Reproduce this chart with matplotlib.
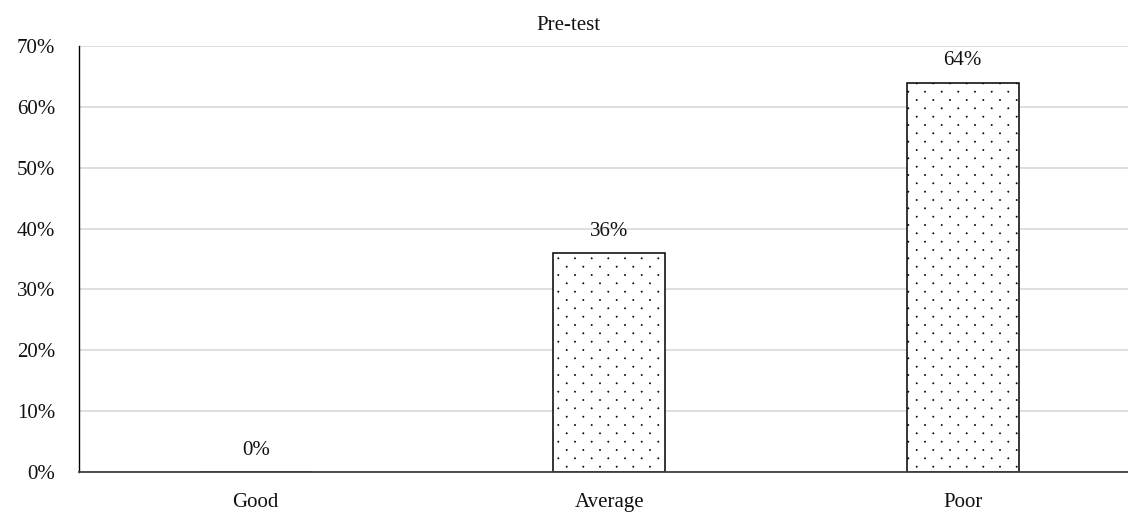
import numpy as np
import matplotlib.pyplot as plt
import matplotlib.ticker as mticker
import matplotlib.hatch as mhatch
from matplotlib.path import Path

plt.rcParams["font.family"] = ["Liberation Serif", "DejaVu Serif"]
plt.rcParams["hatch.linewidth"] = 0.4

# -- Donnees --
categories = ["Good", "Average", "Poor"]
valeurs = [0, 36, 64]
title = "Pre-test"


# -- Motif pointille (grille en quinconce, rangs serres) --
class LatticeDots(mhatch.HatchPatternBase):
    radius = 0.0065

    def __init__(self, hatch, density):
        self.num_rows = hatch.count(".") * density * 2
        self.num_cols = self.num_rows // 2
        circle = Path.unit_circle()
        self.shape_vertices = circle.vertices
        self.shape_codes = circle.codes
        n = 0
        for row in range(self.num_rows + 1):
            n += self.num_cols + 1 if row % 2 == 0 else self.num_cols
        self.num_shapes = n if self.num_rows else 0
        self.num_vertices = self.num_shapes * len(self.shape_vertices)

    def set_vertices_and_codes(self, vertices, codes):
        size = len(self.shape_vertices)
        dy = 1.0 / self.num_rows
        dx = 1.0 / self.num_cols
        cur = 0
        for row in range(self.num_rows + 1):
            if row % 2 == 0:
                cols = np.linspace(0, 1, self.num_cols + 1)
            else:
                cols = np.linspace(dx / 2, 1 - dx / 2, self.num_cols)
            for cx in cols:
                vertices[cur:cur + size] = self.shape_vertices * self.radius + (cx, row * dy)
                codes[cur:cur + size] = self.shape_codes
                cur += size


mhatch._hatch_types = [LatticeDots if t is mhatch.SmallFilledCircles else t
                       for t in mhatch._hatch_types]

FS = 15
TXT = "#111111"

fig = plt.figure(figsize=(11.28, 5.12), dpi=100)
# axes plus large que la figure a droite : le graphique est coupe au bord
ax = fig.add_axes([79 / 1128, 40 / 512, 1060.5 / 1128, 426 / 512])

x = np.arange(len(categories))
ax.bar(x, valeurs, width=0.317, color="white", edgecolor="black",
       linewidth=1.1, hatch=".", zorder=3)

for xi, v in zip(x, valeurs):
    ax.annotate(f"{v}%", xy=(xi, v), xytext=(0, 12.5), textcoords="offset points",
                ha="center", va="baseline", fontsize=FS, color=TXT)

ax.set_xlim(-0.5, 2.5)
ax.set_ylim(0, 70)
ax.set_yticks(range(0, 71, 10))
ax.yaxis.set_major_formatter(mticker.FuncFormatter(lambda v, _: f"{v:.0f}%"))
ax.set_xticks(x)
ax.set_xticklabels(categories)
ax.tick_params(axis="both", length=0, labelsize=FS, labelcolor=TXT)
ax.tick_params(axis="y", pad=17)
ax.tick_params(axis="x", pad=15)

ax.grid(True, axis="y", color="#d9d9d9", linewidth=1.2, zorder=0)
ax.set_axisbelow(True)
for side in ["top", "right"]:
    ax.spines[side].set_visible(False)
ax.spines["left"].set_color("black")
ax.spines["left"].set_linewidth(1.0)
ax.spines["bottom"].set_color("#404040")
ax.spines["bottom"].set_linewidth(1.3)
ax.spines["bottom"].set_zorder(5)

fig.text(568.5 / 1128, 1 - 26 / 512, title, ha="center", va="center",
         fontsize=FS, color=TXT)

plt.savefig("out.png", dpi=100)
plt.close()
